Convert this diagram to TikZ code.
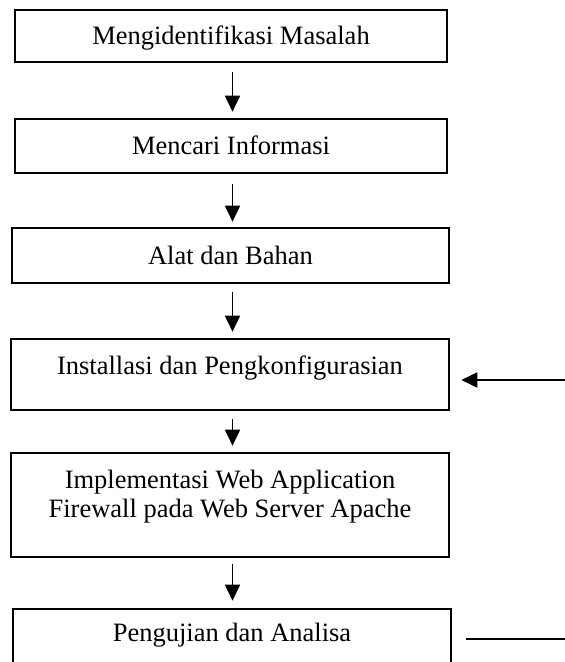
\documentclass[tikz,border=0pt]{standalone}
\usepackage{fontspec}
\setmainfont{Liberation Serif}
\usetikzlibrary{arrows.meta}
\begin{document}
\begin{tikzpicture}[x=1pt,y=-1pt,
  box/.style={draw, line width=2.6pt, inner sep=0pt,
    font=\fontsize{26.5}{29}\selectfont, text height=17.5pt, text depth=0pt},
  arr/.style={line width=1.8pt, -{Triangle[width=15pt,length=16pt]}},
  plainline/.style={line width=1.8pt}]
\useasboundingbox (0,0) rectangle (565,662);
\clip (0,0) rectangle (565,662);
\coordinate (axis) at (232.5,0);
\node[box, minimum width=432pt, minimum height=52pt] (b1) at (231,36) {Mengidentifikasi Masalah};
\node[box, minimum width=432pt, minimum height=54pt] (b2) at (231,146) {Mencari Informasi};
\node[box, minimum width=437pt, minimum height=55pt] (b3) at (230.5,255.5) {Alat dan Bahan};
\node[box, minimum width=438pt, minimum height=71pt, text depth=17.5pt] (b4) at (230,374.5) {Installasi dan Pengkonfigurasian};
\node[box, minimum width=438pt, minimum height=104pt, text depth=51.5pt] (b5) at (230,505)
  {\begin{tabular}[t]{@{}c@{}}Implementasi Web Application\\ Firewall pada Web Server Apache\end{tabular}};
\node[box, minimum width=438pt, minimum height=64pt, text depth=17.5pt] (b6) at (232,641) {Pengujian dan Analisa};
\draw[arr, shorten <=9pt, shorten >=6pt] (b1.south -| axis) -- (b2.north -| axis);
\draw[arr, shorten <=10pt, shorten >=5pt] (b2.south -| axis) -- (b3.north -| axis);
\draw[arr, shorten <=8pt, shorten >=6pt] (b3.south -| axis) -- (b4.north -| axis);
\draw[arr, shorten <=8pt, shorten >=6pt] (b4.south -| axis) -- (b5.north -| axis);
\draw[arr, shorten <=6pt, shorten >=7pt] (b5.south -| axis) -- (b6.north -| axis);
\coordinate (in4) at (566,380);
\draw[arr, shorten >=11pt] (in4) -- (in4 -| b4.east);
\coordinate (out6) at (566,639);
\draw[plainline, shorten >=14pt] (out6) -- (out6 -| b6.east);
\end{tikzpicture}
\end{document}
